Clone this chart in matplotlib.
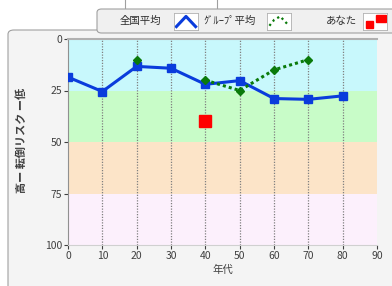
import numpy as np
import matplotlib.pyplot as plt
from matplotlib.patches import FancyBboxPatch, Rectangle

plt.rcParams['font.family'] = ['Noto Sans CJK JP', 'DejaVu Sans']

# データ
ages = [0, 10, 20, 30, 40, 50, 60, 70, 80]
national = [18.5, 25.5, 13.3, 14.2, 22, 20.2, 28.9, 29.3, 27.6]
group = [np.nan, np.nan, 10, np.nan, 20, 25, 15, 10, np.nan]
you_age = [40]
you_val = [40]
bands = [(0, 25, '#c8f8fc'), (25, 50, '#c8fcc8'), (50, 75, '#fce4c8'), (75, 100, '#fcf0fc')]
xticks = [0, 10, 20, 30, 40, 50, 60, 70, 80, 90]
yticks = [0, 25, 50, 75, 100]

fig = plt.figure(figsize=(3.92, 2.86), dpi=100)
fig.patch.set_facecolor('white')

# パネル背景
panel = FancyBboxPatch((8 / 392, -0.05), 0.99, 1 - 30 / 286 + 0.05, boxstyle='round,pad=0,rounding_size=0.015',
                       transform=fig.transFigure, facecolor='#f4f4f4', edgecolor='#a0a0a0', lw=0.8, zorder=-3)
fig.patches.append(panel)

# 上の白い箱
fig.patches.append(Rectangle((125 / 392, 1 - 15 / 286), 92 / 392, 0.1, transform=fig.transFigure,
                             facecolor='white', edgecolor='#a0a0a0', lw=0.8, zorder=-2))

ax = fig.add_axes([68 / 392, 1 - 245 / 286, 309 / 392, 206 / 286])
ax.set_facecolor('none')
for lo, hi, c in bands:
    ax.axhspan(lo, hi, color=c, zorder=0, lw=0)
for x in xticks[1:-1]:
    ax.axvline(x, color='#808080', ls=(0, (1, 1.2)), lw=0.9, zorder=1)

ax.plot(ages, national, color='#0a3cdc', lw=2.2, marker='s', ms=5.5, zorder=3)
ax.plot(ages, group, color='#0a7a0a', lw=2.2, ls=(0, (1, 1)), marker='D', ms=4, zorder=4)
ax.plot(you_age, you_val, color='#ff0000', marker='s', ms=9, ls='none', zorder=5)

ax.set_xlim(0, 90)
ax.set_ylim(100, 0)
ax.set_xticks(xticks)
ax.set_yticks(yticks)
ax.tick_params(labelsize=7.5, colors='#404040', length=3, width=0.8, pad=1)
ax.spines['right'].set_visible(False)
ax.spines['top'].set_color('#b0b0b0')
ax.spines['top'].set_linewidth(1.5)
ax.spines['left'].set_color('#909090')
ax.spines['bottom'].set_color('#d0d0d0')
ax.set_xlabel('年代', fontsize=7.5, color='#404040', labelpad=3)
fig.text(21 / 392, 1 - 140 / 286, '高ー 転倒リスク ー低', rotation=90, fontsize=8, fontweight='bold',
         color='#404040', ha='center', va='center')

# 凡例
fig.patches.append(FancyBboxPatch((97 / 392, 1 - 33 / 286), 0.8, 24 / 286, boxstyle='round,pad=0,rounding_size=0.012',
                                  transform=fig.transFigure, facecolor='#f0f0f0', edgecolor='#a0a0a0', lw=0.8, zorder=-1))
ly = 1 - 21 / 286
fig.text(120 / 392, ly, '全国平均', fontsize=7.5, color='#303030', va='center')
fig.text(203 / 392, ly, 'ｸﾞﾙｰﾌﾟ平均', fontsize=7.5, color='#303030', va='center')
fig.text(326 / 392, ly, 'あなた', fontsize=7.5, color='#303030', va='center')

def icon(x0):
    a = fig.add_axes([x0 / 392, 1 - 30 / 286, 24 / 392, 17 / 286])
    a.set_xlim(0, 1)
    a.set_ylim(0, 1)
    a.set_xticks([])
    a.set_yticks([])
    a.set_facecolor('white')
    for s in a.spines.values():
        s.set_color('#b0b0b0')
        s.set_linewidth(0.6)
    return a

a1 = icon(174)
a1.plot([0.1, 0.5, 0.9], [0.2, 0.8, 0.2], color='#0a3cdc', lw=2.2)
a2 = icon(267)
a2.plot([0.1, 0.3, 0.55, 0.85], [0.25, 0.6, 0.8, 0.35], color='#0a7a0a', lw=1.6, ls=(0, (1, 1.5)))
a3 = icon(363)
a3.add_patch(Rectangle((0.12, 0.1), 0.3, 0.45, color='#ff0000'))
a3.add_patch(Rectangle((0.55, 0.5), 0.4, 0.4, color='#ff0000'))

fig.savefig('out.png', dpi=100, facecolor=fig.get_facecolor())
